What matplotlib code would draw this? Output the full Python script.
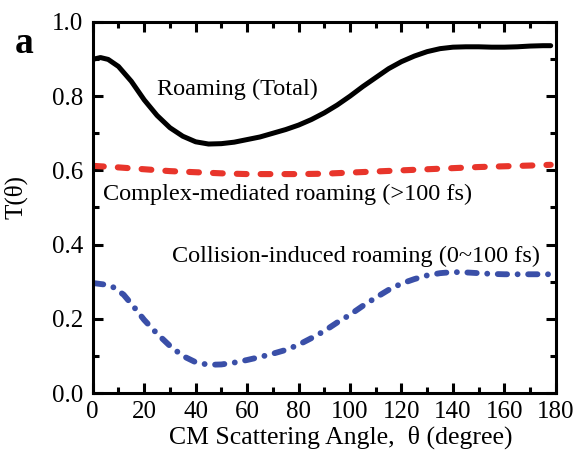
import matplotlib
matplotlib.use("Agg")
import matplotlib.pyplot as plt
from matplotlib.ticker import MultipleLocator

plt.rcParams['font.family'] = ['Liberation Serif', 'DejaVu Serif']

theta_total = [0.5, 3, 6, 10, 15, 20, 25, 30, 35, 40, 45, 50, 55, 60, 65, 70, 75, 80, 85, 90,
               95, 100, 105, 110, 115, 120, 125, 130, 135, 140, 145, 150, 155, 160, 165, 170, 175, 178]
total = [0.900, 0.904, 0.899, 0.880, 0.840, 0.790, 0.748, 0.715, 0.692, 0.677, 0.671, 0.672, 0.676,
         0.683, 0.690, 0.700, 0.710, 0.722, 0.737, 0.755, 0.776, 0.800, 0.826, 0.850, 0.874, 0.893,
         0.908, 0.920, 0.928, 0.932, 0.933, 0.933, 0.932, 0.932, 0.933, 0.935, 0.936, 0.936]

theta_complex = [0.5, 10, 20, 30, 40, 50, 60, 70, 80, 90, 100, 110, 120, 130, 140, 150, 160, 170, 178]
complex_med = [0.612, 0.608, 0.603, 0.598, 0.595, 0.592, 0.590, 0.590, 0.590, 0.591, 0.594, 0.597,
               0.600, 0.603, 0.606, 0.609, 0.611, 0.613, 0.615]

theta_coll = [0.5, 5, 8, 12, 16, 20, 25, 30, 35, 40, 45, 50, 55, 60, 65, 70, 75, 80, 85, 90, 95,
              100, 105, 110, 115, 120, 125, 130, 135, 140, 145, 150, 155, 160, 170, 178]
collision = [0.296, 0.292, 0.285, 0.265, 0.232, 0.197, 0.160, 0.127, 0.100, 0.083, 0.076, 0.077,
             0.082, 0.089, 0.097, 0.106, 0.116, 0.130, 0.148, 0.167, 0.190, 0.211, 0.235, 0.257,
             0.278, 0.295, 0.307, 0.317, 0.323, 0.326, 0.325, 0.323, 0.321, 0.320, 0.320, 0.320]

xticks = [0, 20, 40, 60, 80, 100, 120, 140, 160, 180]
yticks = [0.0, 0.2, 0.4, 0.6, 0.8, 1.0]

fig = plt.figure(figsize=(5.76, 4.57), dpi=100)
ax = fig.add_axes([0.161, 0.140, 0.804, 0.812])

ax.plot(theta_total, total, color='black', lw=3.6, solid_capstyle='round', solid_joinstyle='round')
l2, = ax.plot(theta_complex, complex_med, color='#e8352b', lw=4.4, dash_capstyle='round')
l2.set_dashes([1.6, 2.3])
l3, = ax.plot(theta_coll, collision, color='#3a4fa8', lw=4.2, dash_capstyle='round')
l3.set_dashes([1.6, 1.8, 0.01, 1.8])

ax.set_xlim(0, 180)
ax.set_ylim(0, 1.0)
ax.set_xticks(xticks)
ax.set_yticks(yticks)
ax.set_xticklabels([str(v) for v in xticks])
ax.set_yticklabels([f"{v:.1f}" for v in yticks])
ax.xaxis.set_minor_locator(MultipleLocator(10))
ax.yaxis.set_minor_locator(MultipleLocator(0.1))
ax.tick_params(which='both', direction='in', top=True, right=True, width=2.2, labelsize=18)
ax.tick_params(axis='x', which='major', pad=6)
ax.tick_params(axis='y', which='major', pad=7)
ax.tick_params(which='major', length=7)
ax.tick_params(which='minor', length=4)
for s in ax.spines.values():
    s.set_linewidth(2.2)

ax.set_xlabel('CM Scattering Angle,  θ (degree)', fontsize=18.5)
ax.xaxis.label.set_va('center')
ax.xaxis.set_label_coords(0.535, -0.119)
ax.set_ylabel('T(θ)', fontsize=18)
ax.yaxis.label.set_va('center')
ax.yaxis.set_label_coords(-0.167, 0.528)

ax.text(25, 0.817, 'Roaming (Total)', fontsize=17.5, ha='left', va='center')
ax.text(3.9, 0.536, 'Complex-mediated roaming (>100 fs)', fontsize=17.5, ha='left', va='center')
ax.text(30.8, 0.369, 'Collision-induced roaming (0~100 fs)', fontsize=17.5, ha='left', va='center')
fig.text(0.026, 0.905, 'a', fontsize=27, fontweight='bold', ha='left', va='center')

fig.savefig('out.png', dpi=100)
